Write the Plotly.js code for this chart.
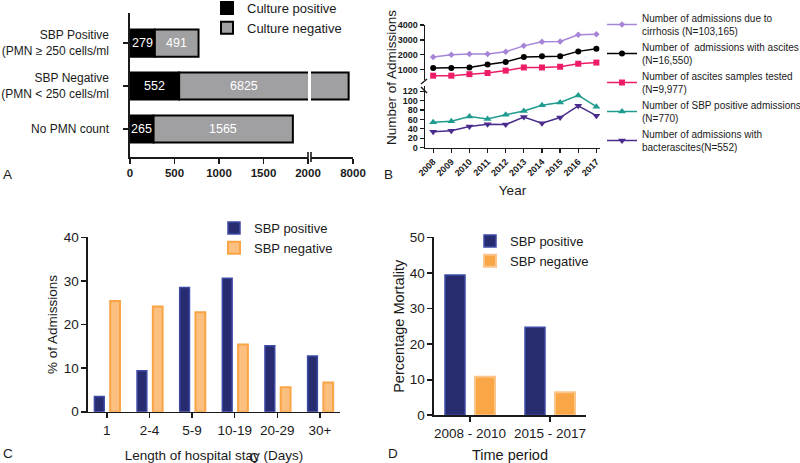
<!DOCTYPE html>
<html>
<head>
<meta charset="utf-8">
<script src="https://cdn.plot.ly/plotly-3.0.1.min.js"></script>
<style>
html,body{margin:0;padding:0;background:#fff;overflow:hidden;width:800px;height:463px}
#chart{width:840px;height:475px;margin-top:-12px}
</style>
</head>
<body>
<div id="chart"></div>
<script>
// ---------- Panel A data ----------
const aCategories = ['SBP Positive<br>(PMN ≥ 250 cells/ml', 'SBP Negative<br>(PMN < 250 cells/ml', 'No PMN count'];
const aCulturePositive = [279, 552, 265];
const aCultureNegative = [491, 6825, 1565];
const aTicks1 = [0, 500, 1000, 1500, 2000];
const aTicks2 = [8000];

// ---------- Panel B data ----------
const bYears = [2008, 2009, 2010, 2011, 2012, 2013, 2014, 2015, 2016, 2017];
const bCirrhosis = [1850, 2000, 2050, 2050, 2200, 2600, 2880, 2900, 3350, 3380];
const bAscites = [1120, 1120, 1150, 1350, 1520, 1850, 1900, 1900, 2230, 2400];
const bSamples = [600, 600, 700, 780, 940, 1150, 1150, 1200, 1400, 1480];
const bSbpPositive = [54, 56, 66, 61, 70, 78, 90, 96, 111, 87];
const bBacterascites = [34, 36, 45, 50, 49, 65, 52, 64, 89, 68];
const bUpperTicks = [1000, 2000, 3000, 4000];
const bLowerTicks = [0, 20, 40, 60, 80, 100, 120];
const bNames = [
  'Number of admissions due to<br>cirrhosis (N=103,165)',
  'Number of  admissions with ascites<br>(N=16,550)',
  'Number of ascites samples tested<br>(N=9,977)',
  'Number of SBP positive admissions<br>(N=770)',
  'Number of admissions with<br>bacterascites(N=552)'
];

// ---------- Panel C data ----------
const cStay = ['1', '2-4', '5-9', '10-19', '20-29', '30+'];
const cSbpPositive = [3.5, 9.4, 28.5, 30.6, 15.1, 12.8];
const cSbpNegative = [25.4, 24.1, 22.8, 15.4, 5.6, 6.7];

// ---------- Panel D data ----------
const dPeriods = ['2008 - 2010', '2015 - 2017'];
const dSbpPositive = [39.4, 24.7];
const dSbpNegative = [10.8, 6.5];

// ---------- helpers (canvas is a bit larger than the 800x463 view, shifted up by OFF) ----------
const W = 840, H = 475, OFF = 12;
const px = x => x / W;
const py = y => 1 - (y + OFF) / H;
const FONT = 'Liberation Sans, Arial, sans-serif';
const INK = '#1a1a1a';
const BLUE = '#272b70', BLUE_LINE = '#3e4ba6';
const ORANGE_C = '#fbbf80', ORANGE_C_LINE = '#f9a445';
const ORANGE_D = '#f9a646', ORANGE_D_LINE = '#fbc58a';
const GRAY = '#a0a0a2';
const BREAK = 2000;
const bold = v => '<b>' + v + '</b>';

const traces = [];

// Panel A bars (overlay with explicit base)
traces.push({
  type: 'bar', orientation: 'h', xaxis: 'x', yaxis: 'y',
  y: aCategories, x: aCulturePositive, base: 0,
  name: 'Culture positive', legend: 'legend',
  width: 0.63, marker: {color: '#000', line: {color: '#000', width: 2}}, hoverinfo: 'skip'
});
traces.push({
  type: 'bar', orientation: 'h', xaxis: 'x', yaxis: 'y',
  y: aCategories, x: aCultureNegative, base: aCulturePositive,
  name: 'Culture negative', legend: 'legend',
  width: 0.63, marker: {color: GRAY, line: {color: '#000', width: 2}}, hoverinfo: 'skip'
});
// continuation beyond the axis break (only rows that exceed the break)
const aBrokenIdx = aCategories.map((c, i) => i).filter(i => aCulturePositive[i] + aCultureNegative[i] > BREAK);
traces.push({
  type: 'bar', orientation: 'h', xaxis: 'x2', yaxis: 'y',
  y: aBrokenIdx.map(i => aCategories[i]), x: aBrokenIdx.map(i => aCultureNegative[i]),
  base: aBrokenIdx.map(i => aCulturePositive[i]),
  name: 'Culture negative', showlegend: false,
  width: 0.63, marker: {color: GRAY, line: {color: '#000', width: 2}}, hoverinfo: 'skip'
});

// Panel B lines
const bSeries = [
  {y: bCirrhosis, color: '#a684d8', symbol: 'diamond', size: 5, axis: 'y5'},
  {y: bAscites, color: '#000000', symbol: 'circle', size: 6, axis: 'y5'},
  {y: bSamples, color: '#ee1c68', symbol: 'square', size: 6, axis: 'y5'},
  {y: bSbpPositive, color: '#1f9c8f', symbol: 'triangle-up', size: 7, axis: 'y6'},
  {y: bBacterascites, color: '#4a2c8c', symbol: 'triangle-down', size: 7, axis: 'y6'}
];
bSeries.forEach((s, i) => {
  traces.push({
    type: 'scatter', mode: 'lines+markers', xaxis: 'x5', yaxis: s.axis,
    x: bYears, y: s.y, name: bNames[i], legend: 'legend2',
    line: {color: s.color, width: 1.5},
    marker: {color: s.color, symbol: s.symbol, size: s.size},
    hoverinfo: 'skip'
  });
});

// Panel C bars
traces.push({type: 'bar', xaxis: 'x3', yaxis: 'y3', x: cStay, y: cSbpPositive, name: 'SBP positive',
  legend: 'legend3', width: 0.23, offset: -0.29,
  marker: {color: BLUE, line: {color: BLUE_LINE, width: 1.5}}, hoverinfo: 'skip'});
traces.push({type: 'bar', xaxis: 'x3', yaxis: 'y3', x: cStay, y: cSbpNegative, name: 'SBP negative',
  legend: 'legend3', width: 0.23, offset: 0.08,
  marker: {color: ORANGE_C, line: {color: ORANGE_C_LINE, width: 2}}, hoverinfo: 'skip'});

// Panel D bars
traces.push({type: 'bar', xaxis: 'x4', yaxis: 'y4', x: dPeriods, y: dSbpPositive, name: 'SBP positive',
  legend: 'legend4', width: 0.25, offset: -0.3125,
  marker: {color: BLUE, line: {color: BLUE_LINE, width: 1.5}}, hoverinfo: 'skip'});
traces.push({type: 'bar', xaxis: 'x4', yaxis: 'y4', x: dPeriods, y: dSbpNegative, name: 'SBP negative',
  legend: 'legend4', width: 0.25, offset: 0.0625,
  marker: {color: ORANGE_D, line: {color: ORANGE_D_LINE, width: 2}}, hoverinfo: 'skip'});

// ---------- axes ----------
const baseAxis = {
  showgrid: false, zeroline: false, showline: true, linecolor: INK, linewidth: 1.6,
  ticks: 'outside', ticklen: 5, tickwidth: 1.6, tickcolor: INK, fixedrange: true,
  tickfont: {family: FONT, size: 13, color: INK}
};
const tf = size => ({family: FONT, size: size, color: INK});

const layout = {
  width: W, height: H, margin: {l: 0, r: 0, t: 0, b: 0},
  paper_bgcolor: '#fff', plot_bgcolor: 'rgba(0,0,0,0)',
  barmode: 'overlay', showlegend: true,
  font: {family: FONT, color: INK},
  // Panel A
  xaxis: Object.assign({}, baseAxis, {domain: [px(130), px(308)], range: [0, BREAK], anchor: 'y',
    tickmode: 'array', tickvals: aTicks1, ticktext: aTicks1.map(bold), tickfont: tf(11.5)}),
  xaxis2: Object.assign({}, baseAxis, {domain: [px(311), px(353)], range: [BREAK, 8000], anchor: 'y',
    tickmode: 'array', tickvals: aTicks2, ticktext: aTicks2.map(bold), tickfont: tf(11.5)}),
  yaxis: Object.assign({}, baseAxis, {domain: [py(157), py(13)], anchor: 'x', type: 'category',
    range: [2.65, -0.7], tickfont: tf(12), ticklabelstandoff: 12}),
  // Panel B
  xaxis5: Object.assign({}, baseAxis, {domain: [px(425), px(600)], range: [2007.55, 2017.2], anchor: 'y6',
    tickmode: 'array', tickvals: bYears, ticktext: bYears.map(bold),
    tickangle: -45, ticklen: 4, tickwidth: 1.2, linewidth: 1.4, tickfont: tf(9),
    title: {text: 'Year', font: tf(13.5), standoff: 8}}),
  yaxis5: Object.assign({}, baseAxis, {domain: [py(80), py(25)], range: [310, 4000], anchor: 'x5',
    tickmode: 'array', tickvals: bUpperTicks, ticktext: bUpperTicks.map(bold),
    ticklen: 4, tickwidth: 1.2, linewidth: 1.4, tickfont: tf(9)}),
  yaxis6: Object.assign({}, baseAxis, {domain: [py(147.7), py(86)], range: [0, 131], anchor: 'x5',
    tickmode: 'array', tickvals: bLowerTicks, ticktext: bLowerTicks.map(bold),
    ticklen: 4, tickwidth: 1.2, linewidth: 1.4, tickfont: tf(9)}),
  // Panel C
  xaxis3: Object.assign({}, baseAxis, {domain: [px(88), px(340)], range: [-0.44, 5.47], anchor: 'y3',
    type: 'category', tickfont: tf(13.5),
    title: {text: 'Length of hospital stay (Days)', font: tf(13.5), standoff: 16}}),
  yaxis3: Object.assign({}, baseAxis, {domain: [py(411.7), py(237.3)], range: [0, 40], anchor: 'x3',
    tickvals: [0, 10, 20, 30, 40], tickfont: tf(13.5),
    title: {text: '% of Admissions', font: tf(13.5), standoff: 3}}),
  // Panel D
  xaxis4: Object.assign({}, baseAxis, {domain: [px(434), px(586)], range: [-0.45, 1.45], anchor: 'y4',
    type: 'category', tickfont: tf(13.5),
    title: {text: 'Time period', font: tf(14.5), standoff: 12}}),
  yaxis4: Object.assign({}, baseAxis, {domain: [py(415.3), py(237.3)], range: [0, 50], anchor: 'x4',
    tickvals: [0, 10, 20, 30, 40, 50], tickfont: tf(13.5),
    title: {text: 'Percentage Mortality', font: tf(14.5), standoff: 1}}),
  legend: {x: px(207), y: py(-7), xanchor: 'left', yanchor: 'top', bgcolor: 'rgba(0,0,0,0)',
    font: tf(13), itemwidth: 30, tracegroupgap: 0, itemclick: false},
  legend2: {x: px(602), y: py(5), xanchor: 'left', yanchor: 'top', bgcolor: 'rgba(0,0,0,0)',
    font: tf(10), itemwidth: 30, tracegroupgap: 0, itemclick: false},
  legend3: {x: px(214), y: py(213), xanchor: 'left', yanchor: 'top', bgcolor: 'rgba(0,0,0,0)',
    font: tf(13), itemwidth: 30, tracegroupgap: 0, itemclick: false},
  legend4: {x: px(470), y: py(226), xanchor: 'left', yanchor: 'top', bgcolor: 'rgba(0,0,0,0)',
    font: tf(13), itemwidth: 30, tracegroupgap: 0, itemclick: false},
  shapes: [
    // Panel A axis break marks
    {type: 'line', xref: 'paper', yref: 'paper', x0: px(308), x1: px(308), y0: py(152), y1: py(162), line: {color: INK, width: 1.6}},
    {type: 'line', xref: 'paper', yref: 'paper', x0: px(311), x1: px(311), y0: py(152), y1: py(162), line: {color: INK, width: 1.6}},
    // Panel B axis break marks
    {type: 'line', xref: 'paper', yref: 'paper', x0: px(421), x1: px(427), y0: py(84), y1: py(79), line: {color: INK, width: 1.4}},
    {type: 'line', xref: 'paper', yref: 'paper', x0: px(421), x1: px(427), y0: py(87), y1: py(93), line: {color: INK, width: 1.4}}
  ],
  annotations: []
};

// Panel A value labels
aCategories.forEach((c, i) => {
  const p = aCulturePositive[i], n = aCultureNegative[i];
  layout.annotations.push({xref: 'x', yref: 'y', x: p / 2, y: c, text: String(p), showarrow: false,
    xanchor: 'center', yanchor: 'middle', font: {family: FONT, size: 12.5, color: '#fff'}});
  layout.annotations.push({xref: 'x', yref: 'y', x: (p + Math.min(p + n, BREAK)) / 2, y: c, text: String(n), showarrow: false,
    xanchor: 'center', yanchor: 'middle', font: {family: FONT, size: 12.5, color: '#fff'}});
});

// Panel letters and Panel B y title
const paperText = (x, y, text, size, extra) => Object.assign({xref: 'paper', yref: 'paper', x: px(x), y: py(y),
  xanchor: 'center', yanchor: 'middle', text: text, showarrow: false, font: tf(size)}, extra || {});
layout.annotations.push(paperText(7, 174, 'A', 13.5));
layout.annotations.push(paperText(388, 174, 'B', 13.5));
layout.annotations.push(paperText(8, 453, 'C', 13.5));
layout.annotations.push(paperText(393, 453, 'D', 13.5));
layout.annotations.push(paperText(254, 457, 'C', 13.5));
layout.annotations.push(paperText(391, 78, 'Number of Admissions', 13.5, {textangle: -90}));

Plotly.newPlot('chart', traces, layout, {staticPlot: true, displayModeBar: false});
</script>
</body>
</html>
